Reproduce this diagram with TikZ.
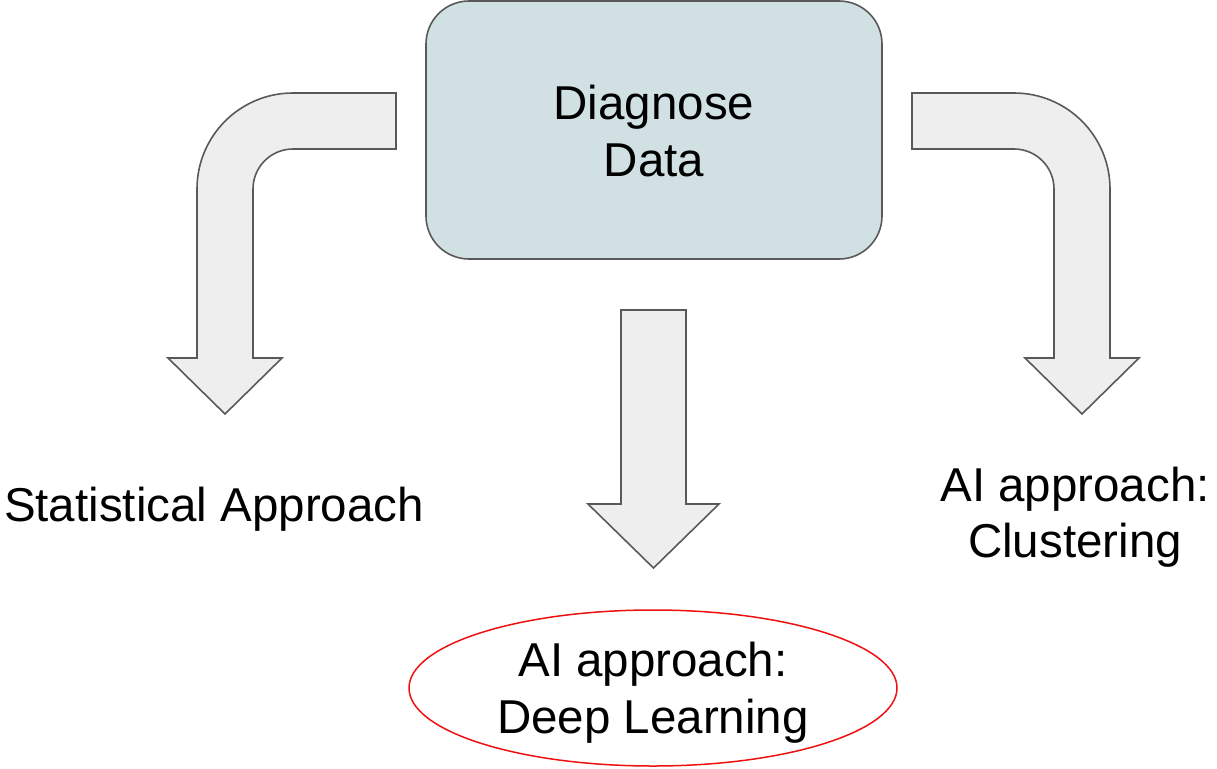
\documentclass[tikz,border=0pt]{standalone}
\usepackage{fontspec}
\setmainfont{Liberation Sans}
\usetikzlibrary{shapes.geometric}
\definecolor{edgegray}{HTML}{595959}
\definecolor{arrowfill}{HTML}{EEEEEE}
\definecolor{boxfill}{HTML}{D0E0E3}
\definecolor{ovalred}{HTML}{EE1111}
\tikzset{
  blockarrow/.style={draw=edgegray, fill=arrowfill, line width=1.6pt, line join=miter},
  label/.style={font=\fontsize{47.5}{56.5}\selectfont, align=center, inner sep=0pt, text=black},
}
\begin{document}
\begin{tikzpicture}[x=1pt, y=-1pt]
\useasboundingbox (0,0) rectangle (1217,768);
% central box
\node[draw=edgegray, fill=boxfill, line width=1.6pt, rounded corners=43pt,
      minimum width=456pt, minimum height=258pt, inner sep=0pt] (diag) at (654,130) {};
\node[label] (diagtxt) at (654,131) {Diagnose\\Data};
% left bent arrow
\draw[blockarrow] (396,93) [rounded corners=96pt] -- (197,93) [sharp corners] -- (197,358)
   -- (168,358) -- (225,414) -- (282,358) -- (253,358)
   [rounded corners=40pt] -- (253,149) [sharp corners] -- (396,149) -- cycle;
% right bent arrow
\draw[blockarrow] (912,93) [rounded corners=96pt] -- (1110,93) [sharp corners] -- (1110,358)
   -- (1139,358) -- (1082,414) -- (1025,358) -- (1054,358)
   [rounded corners=40pt] -- (1054,149) [sharp corners] -- (912,149) -- cycle;
% middle arrow
\draw[blockarrow] (621,310) -- (686,310) -- (686,504) -- (719,504) -- (653.5,568)
   -- (588,504) -- (621,504) -- cycle;
% labels
\node[label] (stat) at (214,509.5) {Statistical Approach};
\node[label] (clust) at (1075,517) {AI approach:\\Clustering};
\node[label] (dl) at (653,692.5) {AI approach:\\Deep Learning};
\draw[ovalred, line width=1.5pt] (653,688) ellipse [x radius=244, y radius=78];
\end{tikzpicture}
\end{document}
